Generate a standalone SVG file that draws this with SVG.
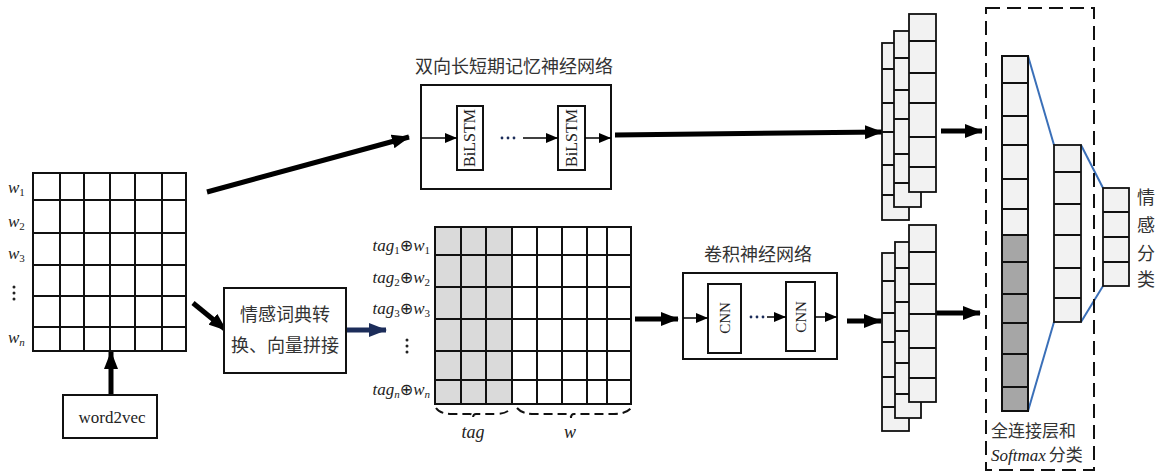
<svg xmlns="http://www.w3.org/2000/svg" width="1170" height="473" viewBox="0 0 1170 473">
<defs>
<style>
.g{fill:none;stroke:#111;stroke-width:2}
.box{fill:#fff;stroke:#111;stroke-width:2}
.cell{fill:#f2f2f2;stroke:#111;stroke-width:1.8}
.ln{stroke:#111;stroke-width:1.8}
.zh{font-family:"Noto Sans CJK SC",sans-serif;fill:#333;font-size:18px}
.lat{font-family:"Liberation Serif","DejaVu Serif",serif;fill:#222}
.it{font-style:italic}
.thick{stroke:#000;stroke-width:5;fill:none}
.thin{stroke:#000;stroke-width:1.5;fill:none}
.blue{stroke:#3a6fb8;stroke-width:2;fill:none}
</style>
<marker id="big" markerUnits="userSpaceOnUse" markerWidth="18" markerHeight="14" refX="17" refY="7" orient="auto"><path d="M0,0 L18,7 L0,14 z" fill="#000"/></marker>
<marker id="bigb" markerUnits="userSpaceOnUse" markerWidth="18" markerHeight="14" refX="17" refY="7" orient="auto"><path d="M0,0 L18,7 L0,14 z" fill="#1c2d5a"/></marker>
<marker id="sm" markerUnits="userSpaceOnUse" markerWidth="12" markerHeight="10" refX="12" refY="5" orient="auto"><path d="M0,0 L12,5 L0,10 z" fill="#000"/></marker>
</defs>

<g id="connectors">
<line class="thick" x1="207" y1="192" x2="409" y2="137" marker-end="url(#big)"/>
<line class="thick" x1="615" y1="135" x2="882" y2="132" marker-end="url(#big)"/>
<line class="thick" x1="111" y1="395" x2="111" y2="352" marker-end="url(#big)"/>
<line class="thick" x1="193" y1="303" x2="226" y2="330" marker-end="url(#big)"/>
<line x1="346" y1="330" x2="386" y2="330" stroke="#1c2d5a" stroke-width="5" marker-end="url(#bigb)"/>
<line class="thick" x1="635" y1="319" x2="678" y2="319" marker-end="url(#big)"/>
<line class="thick" x1="847" y1="321" x2="881" y2="321" marker-end="url(#big)"/>
<line class="thick" x1="941" y1="131" x2="982" y2="131" marker-end="url(#big)"/>
<line class="thick" x1="936" y1="313" x2="980" y2="313" marker-end="url(#big)"/>
<line class="blue" x1="1028" y1="56" x2="1054" y2="145"/>
<line class="blue" x1="1028" y1="411" x2="1054" y2="322"/>
<line class="blue" x1="1081" y1="145" x2="1103" y2="188"/>
<line class="blue" x1="1081" y1="322" x2="1103" y2="286"/>
</g>

<g id="input-matrix">
<rect class="g" x="33" y="173" width="153" height="178"/>
<path class="g" d="M60,173V351M84,173V351M110,173V351M135,173V351M162,173V351M33,200H186M33,233H186M33,265H186M33,296H186M33,327H186"/>
<text class="lat it" x="8" y="193" font-size="17">w<tspan font-size="11" font-style="normal" dy="3">1</tspan></text>
<text class="lat it" x="8" y="227" font-size="17">w<tspan font-size="11" font-style="normal" dy="3">2</tspan></text>
<text class="lat it" x="8" y="259" font-size="17">w<tspan font-size="11" font-style="normal" dy="3">3</tspan></text>
<circle cx="14" cy="287" r="1.5" fill="#222"/><circle cx="14" cy="293" r="1.5" fill="#222"/><circle cx="14" cy="299" r="1.5" fill="#222"/>
<text class="lat it" x="8" y="343" font-size="17">w<tspan font-size="11" dy="3">n</tspan></text>
</g>

<g id="word2vec">
<rect class="box" x="63" y="395" width="94" height="43"/>
<text class="lat" x="112" y="423" font-size="17" text-anchor="middle">word2vec</text>
</g>

<g id="lexicon">
<rect class="box" x="224" y="288" width="122" height="85"/>
<text class="zh" x="285" y="321" text-anchor="middle">情感词典转</text>
<text class="zh" x="285" y="352" text-anchor="middle">换、向量拼接</text>
</g>

<g id="bilstm">
<text class="zh" x="514" y="73" text-anchor="middle">双向长短期记忆神经网络</text>
<rect class="box" x="421" y="85" width="190" height="104"/>
<rect class="box" x="457" y="106" width="26" height="64"/>
<rect class="box" x="558" y="106" width="27" height="64"/>
<text class="lat" font-size="16" text-anchor="middle" transform="translate(475,138) rotate(-90)">BiLSTM</text>
<text class="lat" font-size="16" text-anchor="middle" transform="translate(577,138) rotate(-90)">BiLSTM</text>
<line class="thin" x1="421" y1="138" x2="457" y2="138" marker-end="url(#sm)"/>
<circle cx="502" cy="138" r="1.4" fill="#1c2d5a"/><circle cx="508" cy="138" r="1.4" fill="#1c2d5a"/><circle cx="514" cy="138" r="1.4" fill="#1c2d5a"/>
<line class="thin" x1="523" y1="138" x2="558" y2="138" marker-end="url(#sm)"/>
<line class="thin" x1="585" y1="138" x2="611" y2="138" marker-end="url(#sm)"/>
</g>

<g id="concat-matrix">
<rect x="435" y="227" width="77" height="177" fill="#dadada"/>
<rect class="g" x="435" y="227" width="196" height="177"/>
<path class="g" d="M461,227V404M486,227V404M512,227V404M537,227V404M562,227V404M587,227V404M607,227V404M435,255H631M435,287H631M435,319H631M435,351H631M435,380H631"/>
<text class="lat it" x="430" y="251" font-size="17" text-anchor="end">tag<tspan font-size="11" font-style="normal" dy="3">1</tspan><tspan dy="-3" font-style="normal" font-family="DejaVu Sans" font-size="16">⊕</tspan>w<tspan font-size="11" font-style="normal" dy="3">1</tspan></text>
<text class="lat it" x="430" y="283" font-size="17" text-anchor="end">tag<tspan font-size="11" font-style="normal" dy="3">2</tspan><tspan dy="-3" font-style="normal" font-family="DejaVu Sans" font-size="16">⊕</tspan>w<tspan font-size="11" font-style="normal" dy="3">2</tspan></text>
<text class="lat it" x="430" y="314" font-size="17" text-anchor="end">tag<tspan font-size="11" font-style="normal" dy="3">3</tspan><tspan dy="-3" font-style="normal" font-family="DejaVu Sans" font-size="16">⊕</tspan>w<tspan font-size="11" font-style="normal" dy="3">3</tspan></text>
<circle cx="407" cy="340" r="1.5" fill="#222"/><circle cx="407" cy="346" r="1.5" fill="#222"/><circle cx="407" cy="352" r="1.5" fill="#222"/>
<text class="lat it" x="430" y="395" font-size="17" text-anchor="end">tag<tspan font-size="11" dy="3">n</tspan><tspan dy="-3" font-style="normal" font-family="DejaVu Sans" font-size="16">⊕</tspan>w<tspan font-size="11" dy="3">n</tspan></text>
<path d="M436,408 Q440,414 452,414 L470,414 Q473,414 473,418 Q473,414 476,414 L495,414 Q507,414 511,408" fill="none" stroke="#111" stroke-width="2" stroke-dasharray="9 5"/>
<path d="M517,408 Q522,414 535,414 L568,414 Q571,414 571,418 Q571,414 574,414 L614,414 Q626,414 631,408" fill="none" stroke="#111" stroke-width="2" stroke-dasharray="9 5"/>
<text class="lat it" x="473" y="438" font-size="18" text-anchor="middle">tag</text>
<text class="lat it" x="570" y="438" font-size="18" text-anchor="middle">w</text>
</g>

<g id="cnn">
<text class="zh" x="758" y="261" text-anchor="middle">卷积神经网络</text>
<rect class="box" x="683" y="273" width="154" height="86"/>
<rect class="box" x="708" y="284" width="33" height="69"/>
<rect class="box" x="786" y="282" width="29" height="69"/>
<text class="lat" font-size="15" text-anchor="middle" transform="translate(730,318) rotate(-90)">CNN</text>
<text class="lat" font-size="15" text-anchor="middle" transform="translate(806,317) rotate(-90)">CNN</text>
<line class="thin" x1="683" y1="318" x2="708" y2="318" marker-end="url(#sm)"/>
<circle cx="751" cy="317" r="1.4" fill="#1c2d5a"/><circle cx="757" cy="317" r="1.4" fill="#1c2d5a"/><circle cx="763" cy="317" r="1.4" fill="#1c2d5a"/>
<line class="thin" x1="767" y1="317" x2="786" y2="317" marker-end="url(#sm)"/>
<line class="thin" x1="815" y1="317" x2="837" y2="317" marker-end="url(#sm)"/>
</g>

<g id="bilstm-features">
<rect class="cell" x="882" y="43" width="27" height="177"/>
<path class="ln" d="M882,69H909M882,103H909M882,132H909M882,165H909M882,195H909"/>
<rect class="cell" x="894" y="31" width="27" height="176"/>
<path class="ln" d="M894,58H921M894,90H921M894,119H921M894,154H921M894,183H921"/>
<rect class="cell" x="909" y="14" width="27" height="178"/>
<path class="ln" d="M909,41H936M909,73H936M909,103H936M909,137H936M909,167H936"/>
</g>

<g id="cnn-features">
<rect class="cell" x="882" y="253" width="27" height="178"/>
<path class="ln" d="M882,281H909M882,313H909M882,342H909M882,377H909M882,407H909"/>
<rect class="cell" x="895" y="242" width="26" height="176"/>
<path class="ln" d="M895,268H921M895,302H921M895,331H921M895,363H921M895,394H921"/>
<rect class="cell" x="909" y="225" width="27" height="177"/>
<path class="ln" d="M909,252H936M909,284H936M909,314H936M909,348H936M909,378H936"/>
</g>

<g id="fc-softmax">
<rect x="986" y="8" width="108" height="462" fill="none" stroke="#111" stroke-width="2" stroke-dasharray="14 7"/>
<rect x="1002" y="56" width="26" height="179" fill="#f2f2f2"/>
<rect x="1002" y="235" width="26" height="176" fill="#a6a6a6"/>
<rect x="1002" y="56" width="26" height="355" fill="none" stroke="#111" stroke-width="2"/>
<path class="ln" d="M1002,83H1028M1002,116H1028M1002,145H1028M1002,179H1028M1002,209H1028M1002,235H1028M1002,262H1028M1002,294H1028M1002,323H1028M1002,354H1028M1002,387H1028"/>
<rect class="cell" x="1054" y="145" width="27" height="177"/>
<path class="ln" d="M1054,172H1081M1054,204H1081M1054,235H1081M1054,268H1081M1054,298H1081"/>
<rect class="cell" x="1103" y="188" width="26" height="98"/>
<path class="ln" d="M1103,212H1129M1103,237H1129M1103,262H1129"/>
<text class="zh" x="991" y="437" style="font-size:17px">全连接层和</text>
<text x="991" y="461"><tspan class="lat it" font-size="17">Softmax</tspan><tspan class="zh" dx="3" style="font-size:17px">分类</tspan></text>
</g>

<g id="sentiment-label">
<text class="zh" x="1146" y="204" text-anchor="middle">情</text>
<text class="zh" x="1146" y="232" text-anchor="middle">感</text>
<text class="zh" x="1146" y="260" text-anchor="middle">分</text>
<text class="zh" x="1146" y="286" text-anchor="middle">类</text>
</g>
</svg>
